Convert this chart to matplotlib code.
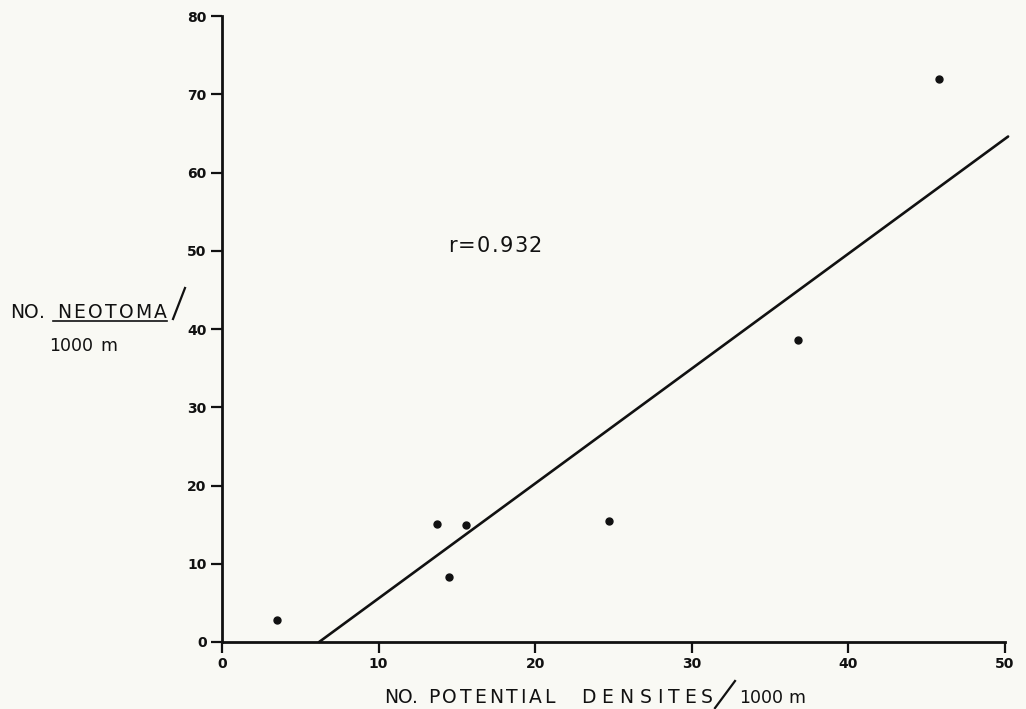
import matplotlib
matplotlib.use('Agg')
import matplotlib.pyplot as plt
from matplotlib.lines import Line2D

# data
den_sites = [3.5, 13.7, 14.5, 15.6, 24.7, 36.8, 45.8]
neotoma = [2.8, 15.1, 8.3, 14.9, 15.5, 38.6, 72.0]
fit_x = [6.2, 50.2]
fit_y = [0.0, 64.6]
x_ticks = [0, 10, 20, 30, 40, 50]
y_ticks = [0, 10, 20, 30, 40, 50, 60, 70, 80]

W, H = 1026, 709
bg = '#f9f9f4'
ink = '#111111'

fig = plt.figure(figsize=(W / 100, H / 100), dpi=100, facecolor=bg)
ax = fig.add_axes([0.2164, 0.0945, 0.7631, 0.8829], facecolor=bg)

ax.plot(fit_x, fit_y, color=ink, lw=1.9, clip_on=False, solid_capstyle='round')
ax.plot(den_sites, neotoma, 'o', color=ink, ms=5, clip_on=False)

ax.set_xlim(0, 50)
ax.set_ylim(0, 80)
ax.set_xticks(x_ticks)
ax.set_yticks(y_ticks)
for s in ['top', 'right']:
    ax.spines[s].set_visible(False)
for s in ['left', 'bottom']:
    ax.spines[s].set_linewidth(2)
    ax.spines[s].set_color(ink)
ax.tick_params(axis='both', direction='out', length=8, width=1.6, colors=ink,
               labelsize=10, pad=3)
for lab in ax.get_xticklabels() + ax.get_yticklabels():
    lab.set_fontweight('bold')

renderer = fig.canvas.get_renderer()


def spaced(s, x0, x1, base, size):
    # letter-spaced text placed in pixel coords (x0..x1, baseline from top)
    ts = [fig.text(0, 0, c, fontsize=size, color=ink, ha='left', va='baseline')
          for c in s]
    ws = [t.get_window_extent(renderer).width for t in ts]
    gap = (x1 - x0 - sum(ws)) / max(len(s) - 1, 1)
    x = x0
    for t, w in zip(ts, ws):
        t.set_position((x / W, 1 - base / H))
        x += w + gap


def plain(s, x0, base, size):
    fig.text(x0 / W, 1 - base / H, s, fontsize=size, color=ink,
             ha='left', va='baseline')


def pline(xs, ys, lw=1.4):
    fig.add_artist(Line2D([x / W for x in xs], [1 - y / H for y in ys],
                          color=ink, lw=lw))


# r value
spaced('r=0.932', 448, 542, 252, 15)

# y label
spaced('NO.', 10, 45, 318, 13.5)
spaced('NEOTOMA', 57, 167, 318, 13.5)
pline([53, 167], [320.5, 320.5], lw=1.2)
pline([173, 185], [319, 288], lw=1.6)
plain('1000', 49, 351, 12.5)
plain('m', 100, 351, 12.5)

# x label
spaced('NO.', 384, 418, 703, 13.5)
spaced('POTENTIAL', 428, 555, 703, 13.5)
spaced('DEN', 581, 633, 703, 13.5)
spaced('SITES', 640, 713, 703, 13.5)
pline([715, 735], [708, 681], lw=1.6)
plain('1000', 739, 703, 12.5)
plain('m', 788, 703, 12.5)

fig.savefig('out.png', dpi=100, facecolor=bg)
